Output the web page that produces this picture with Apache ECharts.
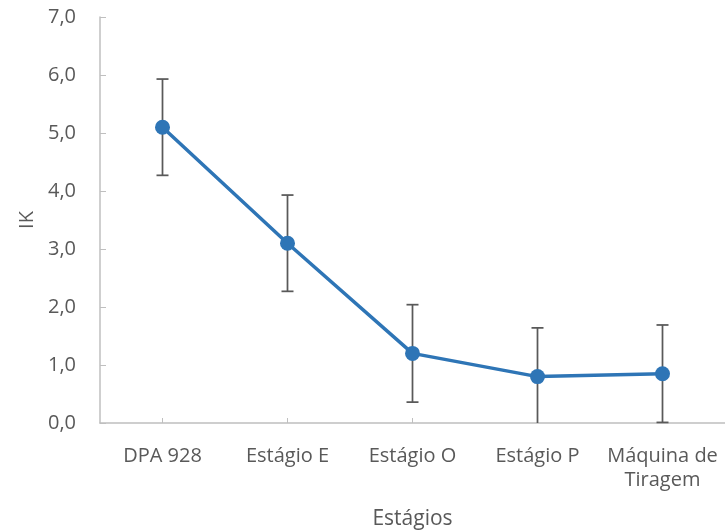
<!DOCTYPE html>
<html>
<head>
<meta charset="utf-8">
<script src="https://cdn.jsdelivr.net/npm/echarts@6/dist/echarts.min.js"></script>
<style>
  html, body { margin: 0; padding: 0; background: #fff; }
  #chart { width: 725px; height: 531px; }
</style>
</head>
<body>
<div id="chart"></div>
<script>
// Stages and mean IK with standard deviation
const categories = ['DPA 928', 'Estágio E', 'Estágio O', 'Estágio P', 'Máquina de\nTiragem'];
const ikMean = [5.1, 3.1, 1.2, 0.8, 0.85];
const ikError = [0.83, 0.83, 0.84, 0.84, 0.84];
const yTicks = [0, 1, 2, 3, 4, 5, 6, 7];

const textColor = '#595959';
const fontFamily = '"Open Sans", "Noto Sans", sans-serif';

const errorData = categories.map((c, i) => [i, ikMean[i] - ikError[i], ikMean[i] + ikError[i]]);

const chart = echarts.init(document.getElementById('chart'));
chart.setOption({
  animation: false,
  grid: { left: 100, right: 0, top: 17, bottom: 108, containLabel: false, outerBoundsMode: 'none' },
  xAxis: {
    type: 'category',
    data: categories,
    boundaryGap: true,
    name: 'Estágios',
    nameLocation: 'middle',
    nameGap: 86,
    nameTextStyle: { color: textColor, fontSize: 21, fontFamily },
    axisLine: { lineStyle: { color: '#BFBFBF', width: 1.5 } },
    axisTick: { show: true, inside: true, alignWithLabel: true, length: 5, lineStyle: { color: '#BFBFBF' } },
    axisLabel: { color: textColor, fontSize: 20, fontFamily, margin: 21, lineHeight: 24, interval: 0 },
    splitLine: { show: false }
  },
  yAxis: {
    type: 'value',
    min: yTicks[0],
    max: yTicks[yTicks.length - 1],
    interval: 1,
    name: 'IK',
    nameLocation: 'middle',
    nameGap: 63,
    nameTextStyle: { color: textColor, fontSize: 20, fontFamily },
    axisLine: { show: true, lineStyle: { color: '#BFBFBF', width: 1.5 } },
    axisTick: { show: true, inside: true, length: 6, lineStyle: { color: '#BFBFBF' } },
    axisLabel: {
      color: textColor, fontSize: 20, fontFamily, margin: 24,
      formatter: v => v.toFixed(1).replace('.', ',')
    },
    splitLine: { show: false }
  },
  series: [
    {
      type: 'line',
      data: ikMean,
      symbol: 'circle',
      symbolSize: 15,
      z: 3,
      lineStyle: { color: '#2E75B6', width: 3.5 },
      itemStyle: { color: '#2E75B6' }
    },
    {
      type: 'custom',
      z: 2,
      data: errorData,
      renderItem: function (params, api) {
        const x = api.value(0);
        const lowVal = Math.max(api.value(1), yTicks[0]);
        const highVal = api.value(2);
        const low = api.coord([x, lowVal]);
        const high = api.coord([x, highVal]);
        const cap = 6;
        const style = { stroke: '#595959', lineWidth: 1.75 };
        const children = [
          { type: 'line', shape: { x1: low[0], y1: low[1], x2: high[0], y2: high[1] }, style },
          { type: 'line', shape: { x1: high[0] - cap, y1: high[1], x2: high[0] + cap, y2: high[1] }, style }
        ];
        if (api.value(1) >= yTicks[0]) {
          children.push({ type: 'line', shape: { x1: low[0] - cap, y1: low[1], x2: low[0] + cap, y2: low[1] }, style });
        }
        return { type: 'group', children };
      }
    }
  ]
});
</script>
</body>
</html>
